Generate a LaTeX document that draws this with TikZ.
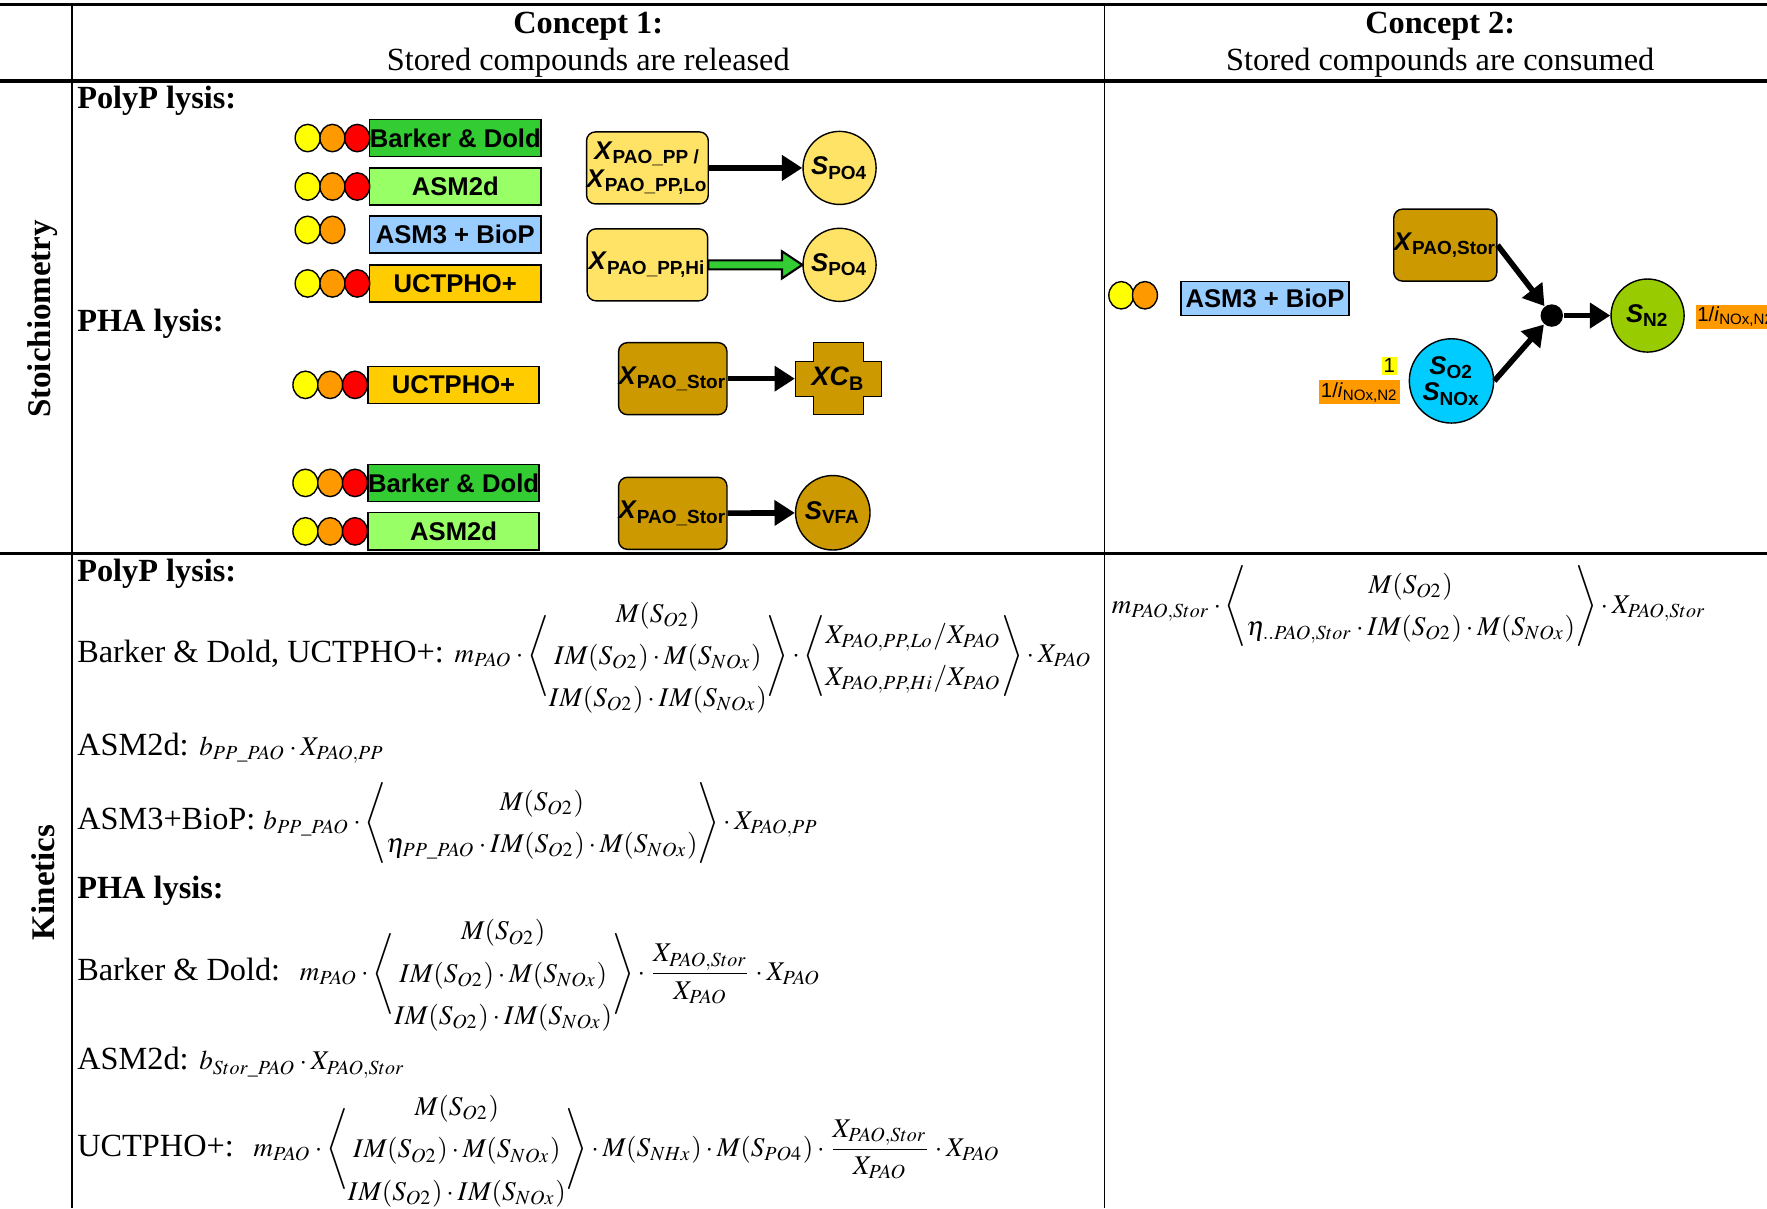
\documentclass[tikz,border=0pt]{standalone}
\usepackage{amsmath}
\usepackage{mathptmx}
\usepackage{fontspec}
\setmainfont{Liberation Serif}
\setsansfont{Liberation Sans}
\usetikzlibrary{arrows.meta,calc,shapes.geometric}
\definecolor{model_green}{RGB}{51,204,51}
\definecolor{model_lime}{RGB}{153,255,102}
\definecolor{model_blue}{RGB}{153,204,255}
\definecolor{model_gold}{RGB}{255,204,0}
\definecolor{light_yellow}{RGB}{255,255,0}
\definecolor{light_orange}{RGB}{255,153,0}
\definecolor{light_red}{RGB}{255,0,0}
\definecolor{pool_yellow}{RGB}{255,227,102}
\definecolor{pool_brown}{RGB}{204,153,0}
\definecolor{pool_cyan}{RGB}{0,204,255}
\definecolor{pool_green}{RGB}{153,204,0}
\definecolor{arrow_green}{RGB}{51,204,51}

\newcommand{\pname}[2]{\textit{#1}\textsubscript{#2}}
\newcommand{\kfont}{\fontsize{7.7}{10}\selectfont}
\newcommand{\MSo}{M(S_{O2})}
\newcommand{\IMSo}{IM(S_{O2})}
\newcommand{\MSn}{M(S_{NOx})}
\newcommand{\IMSn}{IM(S_{NOx})}
\setlength{\arraycolsep}{0pt}
\renewcommand{\arraystretch}{1.2}

\begin{document}
\begin{tikzpicture}[x=0.01127cm,y=-0.01127cm,>={Triangle[length=5.8pt,width=7pt]}]
    \tikzstyle{model}=[draw,rectangle,minimum width=48.7pt,minimum height=10.6pt,inner sep=0pt,font=\sffamily\bfseries\fontsize{7.3}{8}\selectfont]
    \tikzstyle{light}=[draw,ellipse,minimum width=7.1pt,minimum height=7.8pt,inner sep=0pt]
    \tikzstyle{pool}=[draw,rounded corners=2.5pt,minimum height=20.5pt,inner sep=0pt,align=center,font=\sffamily\bfseries\fontsize{7.3}{8}\selectfont]
    \tikzstyle{sol}=[draw,circle,minimum size=20.8pt,inner sep=0pt,align=center,font=\sffamily\bfseries\fontsize{7.3}{7.5}\selectfont]
    \tikzstyle{flux}=[->,line width=1.6pt]
    \tikzstyle{coef}=[inner sep=0.5pt,fill=light_orange,font=\sffamily\fontsize{5.8}{6.5}\selectfont]
    \tikzstyle{head}=[align=center,font=\fontsize{9.2}{10.6}\selectfont]
    \tikzstyle{rowlabel}=[rotate=90,font=\bfseries\fontsize{9.4}{11}\selectfont]
    \tikzstyle{kin}=[anchor=west,inner sep=0pt,font=\fontsize{9.2}{11}\selectfont]
    \tikzstyle{part}=[anchor=west,inner sep=0pt,font=\bfseries\fontsize{9.2}{11}\selectfont]

    \useasboundingbox (0,0) rectangle (1568,1072);

    % table rules
    \draw[line width=1pt] (0,4) -- (1568,4);
    \draw[line width=1pt] (0,72) -- (1568,72);
    \draw[line width=1pt] (0,491) -- (1568,491);
    \draw[line width=0.6pt] (64,4) -- (64,1072);
    \draw[line width=0.5pt] (980,4) -- (980,1072);

    \node[head] (c1) at (522,40) {\textbf{Concept 1:}\\Stored compounds are released};
    \node[head] (c2) at (1278,40) {\textbf{Concept 2:}\\Stored compounds are consumed};
    \node[rowlabel] (st) at (38,283) {Stoichiometry};
    \node[rowlabel] (ki) at (38,783) {Kinetics};

    % stoichiometry, concept 1
    \node[part] (ppl) at (68,89) {PolyP lysis:};
    \node[part] (phl) at (68,287) {PHA lysis:};

    \node[model,fill=model_green] (bda) at (404,122.5) {Barker \& Dold};
    \node[model,fill=model_lime] (asa) at (404,165.5) {ASM2d};
    \node[model,fill=model_blue] (bpa) at (404,208) {ASM3 + BioP};
    \node[model,fill=model_gold] (uca) at (404,251.5) {UCTPHO+};
    \node[model,fill=model_gold] (ucb) at (402.5,341.5) {UCTPHO+};
    \node[model,fill=model_green] (bdb) at (402.5,428.5) {Barker \& Dold};
    \node[model,fill=model_lime] (asb) at (402.5,471.5) {ASM2d};

    \foreach \row/\x/\y in {bda/273/122.5,asa/273/165.5,uca/273/251.5,ucb/271/341.5,bdb/271/428.5,asb/271/471.5} {
      \node[light,fill=light_yellow] (\row-y) at (\x,\y) {};
      \node[light,fill=light_orange] (\row-o) at (\x+22,\y) {};
      \node[light,fill=light_red] (\row-r) at (\x+44,\y) {};
    }
    \node[light,fill=light_yellow] (bpa-y) at (273,204) {};
    \node[light,fill=light_orange] (bpa-o) at (295,204) {};

    \node[pool,fill=pool_yellow,minimum width=34.3pt] (pplo) at (574.5,149) {\pname{X}{PAO\_PP /}\\\pname{X}{PAO\_PP,Lo}};
    \node[sol,fill=pool_yellow] (poa) at (745,149) {\pname{S}{PO4}};
    \node[pool,fill=pool_yellow,minimum width=34.3pt] (pphi) at (574.5,235) {\pname{X}{PAO\_PP,Hi}};
    \node[sol,fill=pool_yellow] (pob) at (745,235) {\pname{S}{PO4}};

    \node[pool,fill=pool_brown,minimum width=27.6pt] (stora) at (597,336) {\pname{X}{PAO\_Stor}};
    \draw[fill=pool_brown] (722,304) -- (766,304) -- (766,321) -- (782,321) -- (782,352) -- (766,352)
      -- (766,368) -- (722,368) -- (722,352) -- (706,352) -- (706,321) -- (722,321) -- cycle;
    \node[inner sep=0pt,minimum width=24.4pt,minimum height=20.5pt,font=\sffamily\bfseries\fontsize{7.6}{8}\selectfont] (xcb) at (744,336) {\pname{XC}{B}};
    \node[pool,fill=pool_brown,minimum width=27.6pt] (storb) at (597,455.5) {\pname{X}{PAO\_Stor}};
    \node[sol,fill=pool_brown,minimum size=21.2pt] (vfa) at (739,455) {\pname{S}{VFA}};

    \path[flux]
     (pplo) edge (poa)
     (stora) edge (xcb)
     (storb) edge (vfa);
    \draw[fill=arrow_green,line width=0.6pt] ($(pphi.east)+(0,-4)$) -- ($(pob.west)+(-18,-4)$) -- ($(pob.west)+(-18,-12)$)
      -- (pob.west) -- ($(pob.west)+(-18,12)$) -- ($(pob.west)+(-18,4)$) -- ($(pphi.east)+(0,4)$) -- cycle;

    % stoichiometry, concept 2
    \node[light,fill=light_yellow] (bpc-y) at (995,262) {};
    \node[light,fill=light_orange] (bpc-o) at (1016,262) {};
    \node[model,fill=model_blue,minimum width=47.8pt,minimum height=9.6pt] (bpc) at (1122.5,265) {ASM3 + BioP};
    \node[pool,fill=pool_brown,minimum width=27.3pt] (stc) at (1282.5,217.5) {\pname{X}{PAO,Stor}};
    \node[sol,fill=pool_cyan,minimum size=24pt] (oxy) at (1288,338) {\pname{S}{O2}\\\pname{S}{NOx}};
    \node[circle,fill=black,minimum size=6.4pt,inner sep=0pt] (mix) at (1377,280) {};
    \node[sol,fill=pool_green] (dn) at (1462,280) {\pname{S}{N2}};
    \node[coef,anchor=west] (cn) at (1504,281) {1/\pname{i}{NOx,N2}};
    \node[coef,fill=light_yellow,anchor=south east] (co) at (1240,333) {1};
    \node[coef,anchor=north east] (cx) at (1243,337) {1/\pname{i}{NOx,N2}};

    \path[flux]
     (stc.east) edge (mix)
     (oxy.east) edge (mix)
     (mix) edge (dn);

    % kinetics, concept 1
    \node[part] (kpp) at (68,509) {PolyP lysis:};
    \node[kin] (kbd) at (68,582) {Barker \& Dold, UCTPHO+: {\kfont$m_{PAO}\cdot\left\langle\begin{array}{c}\MSo\\ \IMSo\cdot\MSn\\ \IMSo\cdot\IMSn\end{array}\right\rangle\cdot\left\langle\begin{array}{c}X_{PAO,PP,Lo}/X_{PAO}\\ X_{PAO,PP,Hi}/X_{PAO}\end{array}\right\rangle\cdot X_{PAO}$}};
    \node[kin] (kas) at (68,664) {ASM2d: {\kfont$b_{PP\_PAO}\cdot X_{PAO,PP}$}};
    \node[kin] (kbp) at (68,730) {ASM3+BioP: {\kfont$b_{PP\_PAO}\cdot\left\langle\begin{array}{c}\MSo\\ \eta_{PP\_PAO}\cdot\IMSo\cdot\MSn\end{array}\right\rangle\cdot X_{PAO,PP}$}};
    \node[part] (kph) at (68,790) {PHA lysis:};
    \node[kin] (kbd2) at (68,864) {Barker \& Dold: \;{\kfont$m_{PAO}\cdot\left\langle\begin{array}{c}\MSo\\ \IMSo\cdot\MSn\\ \IMSo\cdot\IMSn\end{array}\right\rangle\cdot\dfrac{X_{PAO,Stor}}{X_{PAO}}\cdot X_{PAO}$}};
    \node[kin] (kas2) at (68,943) {ASM2d: {\kfont$b_{Stor\_PAO}\cdot X_{PAO,Stor}$}};
    \node[kin] (kuc) at (68,1020) {UCTPHO+: \;{\kfont$m_{PAO}\cdot\left\langle\begin{array}{c}\MSo\\ \IMSo\cdot\MSn\\ \IMSo\cdot\IMSn\end{array}\right\rangle\cdot M(S_{NHx})\cdot M(S_{PO4})\cdot\dfrac{X_{PAO,Stor}}{X_{PAO}}\cdot X_{PAO}$}};

    % kinetics, concept 2
    \node[kin] (kc2) at (986,538) {{\kfont$m_{PAO,Stor}\cdot\left\langle\begin{array}{c}\MSo\\ \eta_{..PAO,Stor}\cdot\IMSo\cdot\MSn\end{array}\right\rangle\cdot X_{PAO,Stor}$}};
\end{tikzpicture}
\end{document}
